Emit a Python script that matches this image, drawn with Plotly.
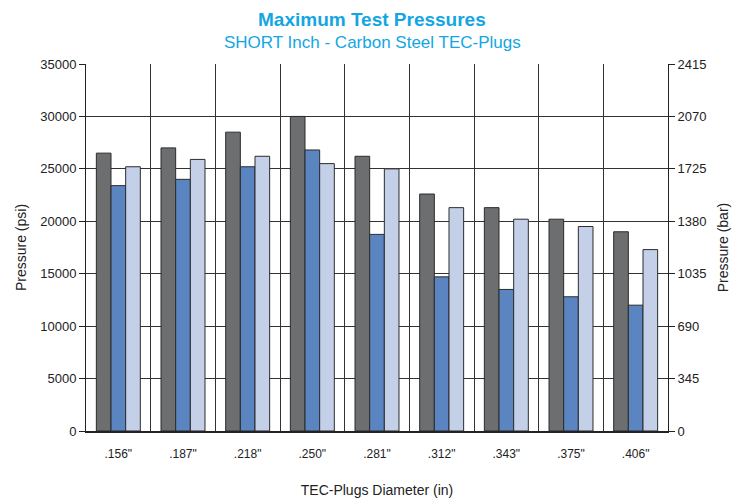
import plotly.graph_objects as go

categories = ['.156"', '.187"', '.218"', '.250"', '.281"', '.312"', '.343"', '.375"', '.406"']
series_a = [26500, 27000, 28500, 30000, 26200, 22600, 21300, 20200, 19000]
series_b = [23400, 24000, 25200, 26800, 18750, 14700, 13500, 12800, 12000]
series_c = [25200, 25900, 26200, 25500, 25000, 21300, 20200, 19500, 17300]
psi_ticks = [0, 5000, 10000, 15000, 20000, 25000, 30000, 35000]
bar_ticks = [0, 345, 690, 1035, 1380, 1725, 2070, 2415]

colors = ["#6d6e70", "#5b85c1", "#c4d0e8"]
xpos = list(range(len(categories)))
bounds = [i + 0.5 for i in range(-1, len(categories))]

fig = go.Figure()
for vals, col in zip([series_a, series_b, series_c], colors):
    fig.add_trace(go.Bar(x=xpos, y=vals, marker=dict(color=col, line=dict(color="#2b2b2b", width=1)),
                         showlegend=False))
# invisible trace for right axis
fig.add_trace(go.Scatter(x=[xpos[0]], y=[0], yaxis="y2", mode="markers",
                         marker=dict(opacity=0), showlegend=False, hoverinfo="skip"))

font = "Liberation Sans, Arial, sans-serif"
L, R, T, B = 86, 70, 64, 67
fig.update_layout(
    width=738, height=498,
    margin=dict(l=L, r=R, t=T, b=B, autoexpand=False),
    paper_bgcolor="white", plot_bgcolor="white",
    barmode="group", bargap=0.32, bargroupgap=0,
    font=dict(family=font, color="#222", size=12),
    xaxis=dict(range=[-0.5, len(categories) - 0.5], tickvals=xpos, ticktext=categories,
               showgrid=False, zeroline=False, ticks="", showline=True, linecolor="#222", linewidth=2,
               tickfont=dict(size=12), automargin=False, ticklabelstandoff=11,
               title=dict(text="TEC-Plugs Diameter (in)", font=dict(size=14), standoff=38),
               minor=dict(tickvals=bounds, showgrid=True, gridcolor="#333", gridwidth=1)),
    yaxis=dict(range=[0, 35000], tickvals=psi_ticks, ticktext=[str(v) for v in psi_ticks],
               showgrid=True, gridcolor="#333", gridwidth=1, automargin=False,
               zeroline=False, showline=True, linecolor="#222", linewidth=1, ticks="outside",
               ticklen=6, tickcolor="#222", tickfont=dict(size=13),
               title=dict(text="Pressure (psi)", font=dict(size=14), standoff=10)),
    yaxis2=dict(range=[0, 2415], tickvals=bar_ticks, ticktext=[str(v) for v in bar_ticks],
                overlaying="y", side="right", showgrid=False, automargin=False,
                zeroline=False, showline=True, linecolor="#222", linewidth=1, ticks="outside",
                ticklen=6, tickcolor="#222", tickfont=dict(size=13),
                title=dict(text="Pressure (bar)", font=dict(size=14), standoff=12)),
)
ph = 498 - T - B
pw = 738 - L - R
def ypix(p):
    return (498 - B - p) / ph
def xpix(p):
    return (p - L) / pw
fig.add_annotation(text="<b>Maximum Test Pressures</b>", x=xpix(372), y=ypix(19), xref="paper", yref="paper",
                   showarrow=False, font=dict(size=19, color="#13a6e2", family=font), yanchor="middle")
fig.add_annotation(text="SHORT Inch - Carbon Steel TEC-Plugs", x=xpix(372), y=ypix(42), xref="paper", yref="paper",
                   showarrow=False, font=dict(size=17, color="#13a6e2", family=font), yanchor="middle")

fig.write_html("out.html", config={"displayModeBar": False},
               post_script="document.body.style.margin='0';")
